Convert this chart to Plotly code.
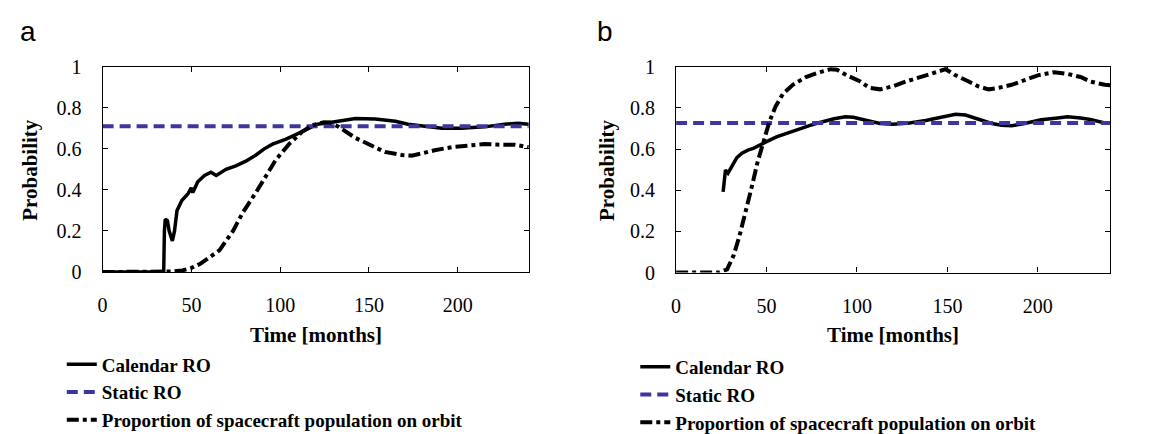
import plotly.graph_objects as go

# ---------------- data ----------------
months_range = [0, 240]
x_ticks = [0, 50, 100, 150, 200]
y_ticks = [0, 0.2, 0.4, 0.6, 0.8, 1]

# Panel a
a_cal_x = [0, 34.4, 34.8, 35.3, 36.5, 37.5, 39.3, 40.5, 41.9, 44.7, 48, 49.9, 50.8, 52, 53.6,
           57.4, 61, 64, 69.5, 75, 80.7, 86.4, 91, 95.7, 103, 108.8, 116, 121, 129, 137,
           142.4, 153.6, 164.9, 172, 183.6, 191, 202, 215, 226.5, 234, 240]
a_cal_y = [0, 0, 0.2, 0.258, 0.25, 0.2, 0.152, 0.2, 0.30, 0.35, 0.38, 0.41, 0.387, 0.41, 0.44,
           0.47, 0.486, 0.47, 0.50, 0.517, 0.54, 0.57, 0.60, 0.623, 0.646, 0.669, 0.70, 0.72, 0.73, 0.742,
           0.748, 0.745, 0.734, 0.72, 0.71, 0.70, 0.70, 0.707, 0.72, 0.725, 0.72]
a_static_x = [0, 240]
a_static_y = [0.71, 0.71]
a_prop_x = [0, 35, 40, 45, 50, 55, 60, 65.8, 73.3, 78.9, 86.4, 92, 97.6, 105, 112.5, 118, 124.7,
            128, 133, 142.4, 151.8, 159, 168.6, 174, 180, 187, 196.6, 206, 215, 224.7, 232, 240]
a_prop_y = [0, 0, 0.003, 0.008, 0.02, 0.04, 0.07, 0.106, 0.198, 0.289, 0.388, 0.47, 0.547, 0.623,
            0.684, 0.714, 0.73, 0.728, 0.707, 0.653, 0.616, 0.585, 0.57, 0.567, 0.578, 0.593, 0.608,
            0.615, 0.623, 0.62, 0.62, 0.608]

# Panel b
b_cal_x = [26, 27.3, 28.7, 31, 33.6, 36.4, 40, 42.7, 46.4, 50, 55.5, 61.8, 69, 74.5, 80, 87.3,
           93.6, 98, 105.5, 112.7, 120, 129, 138, 147, 154.5, 160, 167, 174.5, 180, 185.5, 192.7,
           201.8, 211, 216.4, 223.6, 229, 237, 240]
b_cal_y = [0.392, 0.498, 0.483, 0.52, 0.558, 0.58, 0.596, 0.603, 0.621, 0.636, 0.659, 0.679, 0.70,
           0.716, 0.73, 0.747, 0.757, 0.754, 0.739, 0.724, 0.72, 0.727, 0.739, 0.757, 0.769, 0.765,
           0.744, 0.724, 0.716, 0.713, 0.724, 0.742, 0.751, 0.757, 0.751, 0.744, 0.727, 0.725]
b_static_x = [0, 240]
b_static_y = [0.727, 0.727]
b_prop_x = [0, 23.6, 28.2, 31.8, 34.9, 38.5, 41.8, 45, 48.2, 51.5, 55, 59, 64.5, 71.8, 78, 85.5,
            89, 94.5, 101.8, 107, 112.7, 120, 127, 136, 143.6, 149, 154.5, 161.8, 167, 172.7, 178,
            185.5, 192.7, 200, 209, 216.4, 223.6, 229, 237, 240]
b_prop_y = [0, 0, 0.015, 0.083, 0.173, 0.294, 0.415, 0.535, 0.633, 0.731, 0.807, 0.867, 0.912,
            0.95, 0.97, 0.988, 0.985, 0.958, 0.928, 0.897, 0.89, 0.905, 0.928, 0.95, 0.973, 0.988,
            0.958, 0.928, 0.905, 0.89, 0.897, 0.912, 0.935, 0.958, 0.973, 0.965, 0.95, 0.928, 0.912, 0.91]

series_names = ["Calendar RO", "Static RO", "Proportion of spacecraft population on orbit"]
panel_labels = ["a", "b"]
x_title = "Time [months]"
y_title = "Probability"

# ---------------- styles ----------------
W, H = 1149, 434
BLUE = "#3d35a0"
SERIF = "Liberation Serif"
DASHDOT = "12px,4px,4px,4px"
STATIC_DASH = "11px,6px"

fig = go.Figure()

def add_panel(xa, ya, legend, cal, static, prop):
    fig.add_trace(go.Scatter(x=cal[0], y=cal[1], mode="lines", name=series_names[0],
                             line=dict(color="black", width=3.5), xaxis=xa, yaxis=ya,
                             legend=legend))
    fig.add_trace(go.Scatter(x=static[0], y=static[1], mode="lines", name=series_names[1],
                             line=dict(color=BLUE, width=4, dash=STATIC_DASH), xaxis=xa, yaxis=ya,
                             legend=legend))
    fig.add_trace(go.Scatter(x=prop[0], y=prop[1], mode="lines", name=series_names[2],
                             line=dict(color="black", width=4, dash=DASHDOT), xaxis=xa, yaxis=ya,
                             legend=legend))

add_panel("x", "y", "legend", (a_cal_x, a_cal_y), (a_static_x, a_static_y), (a_prop_x, a_prop_y))
add_panel("x2", "y2", "legend2", (b_cal_x, b_cal_y), (b_static_x, b_static_y), (b_prop_x, b_prop_y))

# plot area in pixels
pa = dict(l=90, r=518, t=51, b=270.5)
pb = dict(l=666, r=1102, t=51, b=271)

def px(v):
    return v / W

def py(v):
    return 1 - v / H

axis_common = dict(showline=True, linecolor="black", linewidth=1.3, mirror="ticks",
                   ticks="inside", ticklen=5, tickwidth=1.2, tickcolor="black",
                   showgrid=False, zeroline=False,
                   tickfont=dict(family=SERIF, size=20, color="black"))

legend_font = dict(family=SERIF, size=19, color="black", weight="bold")

fig.update_layout(
    width=W, height=H, margin=dict(l=0, r=0, t=0, b=0),
    paper_bgcolor="white", plot_bgcolor="white",
    xaxis=dict(domain=[px(pa["l"]), px(pa["r"])], range=months_range, tickvals=x_ticks,
               anchor="y", ticklabelstandoff=15, **axis_common),
    yaxis=dict(domain=[py(pa["b"]), py(pa["t"])], range=[0, 1], tickvals=y_ticks,
               anchor="x", ticklabelstandoff=16, **axis_common),
    xaxis2=dict(domain=[px(pb["l"]), px(pb["r"])], range=months_range, tickvals=x_ticks,
                anchor="y2", ticklabelstandoff=15, **axis_common),
    yaxis2=dict(domain=[py(pb["b"]), py(pb["t"])], range=[0, 1], tickvals=y_ticks,
                anchor="x2", ticklabelstandoff=16, **axis_common),
    legend=dict(x=px(49), y=py(349), xanchor="left", yanchor="top", font=legend_font,
                tracegroupgap=0, bgcolor="rgba(0,0,0,0)"),
    legend2=dict(x=px(625), y=py(352), xanchor="left", yanchor="top", font=legend_font,
                 tracegroupgap=0, bgcolor="rgba(0,0,0,0)"),
    showlegend=True,
)

annotations = []
for lbl, xpos in zip(panel_labels, [15.5, 594.5]):
    annotations.append(dict(text=lbl, x=px(xpos), y=py(-5), xref="paper", yref="paper",
                            xanchor="center", yanchor="top", showarrow=False,
                            font=dict(family="Liberation Sans", size=28, color="black")))
for p, tx in ((pa, 17.5), (pb, 596)):
    annotations.append(dict(text=x_title, x=px((p["l"] + p["r"]) / 2), y=py(338),
                            xref="paper", yref="paper", xanchor="center", yanchor="middle",
                            showarrow=False,
                            font=dict(family=SERIF, size=21, color="black", weight="bold")))
    annotations.append(dict(text=y_title, x=px(tx), y=py((p["t"] + p["b"]) / 2),
                            xref="paper", yref="paper", xanchor="center", yanchor="middle",
                            textangle=-90, showarrow=False,
                            font=dict(family=SERIF, size=21, color="black", weight="bold")))
fig.update_layout(annotations=annotations)

fig.write_html("out.html")
